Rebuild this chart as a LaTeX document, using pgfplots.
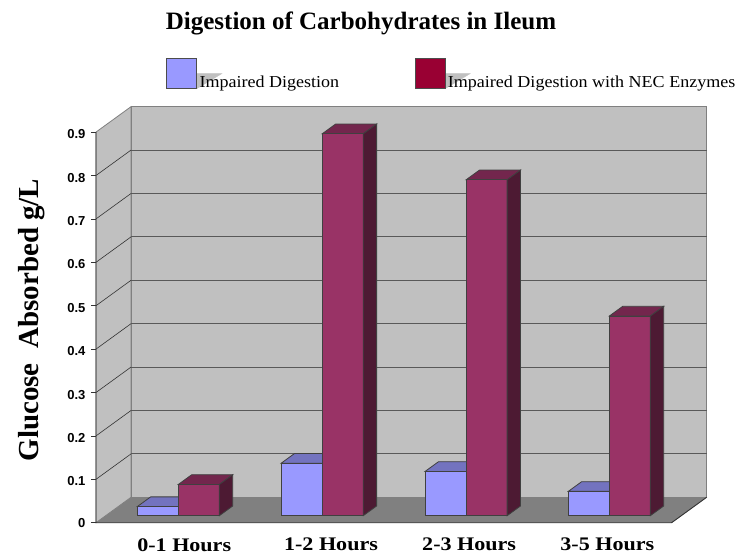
\documentclass[border=0pt]{standalone}
\usepackage{fontspec}
\setmainfont{Liberation Serif}
\newfontfamily\ticksans{Liberation Sans}
\newfontfamily\keyfont[FakeStretch=1.08]{Liberation Serif}
\newfontfamily\catfont[FakeStretch=1.15]{Liberation Serif}
\usepackage{pgfplots}
\pgfplotsset{compat=1.18}

\definecolor{wall}{HTML}{C0C0C0}
\definecolor{floorgrey}{HTML}{808080}
\definecolor{bluefront}{HTML}{9999FF}
\definecolor{bluetop}{HTML}{7373BF}
\definecolor{redfront}{HTML}{993366}
\definecolor{redtop}{HTML}{73264D}
\definecolor{redside}{HTML}{4D1A33}
\definecolor{redkey}{HTML}{990033}

% bar depth runs from 0.276 to 0.658 of the floor
\newcommand{\blockfront}[4]{% x0,x1,value,colour
  \addplot3[fill=#4,draw=black!75,line width=0.8pt,mark=none,forget plot]
    coordinates {(#1,0.276,0) (#2,0.276,0) (#2,0.276,#3) (#1,0.276,#3)} --cycle;}
\newcommand{\blocktop}[4]{%
  \addplot3[fill=#4,draw=black!75,line width=0.8pt,mark=none,forget plot]
    coordinates {(#1,0.276,#3) (#2,0.276,#3) (#2,0.658,#3) (#1,0.658,#3)} --cycle;}
\newcommand{\blockside}[3]{% x1,value,colour
  \addplot3[fill=#3,draw=black!75,line width=0.8pt,mark=none,forget plot]
    coordinates {(#1,0.276,0) (#1,0.658,0) (#1,0.658,#2) (#1,0.276,#2)} --cycle;}
\newcommand{\pair}[3]{% left edge, blue value, red value
  \pgfmathsetmacro{\xa}{#1}\pgfmathsetmacro{\xb}{#1+0.285}\pgfmathsetmacro{\xc}{#1+0.57}
  \edef\doit{\noexpand\blocktop{\xa}{\xb}{#2}{bluetop}
    \noexpand\blockfront{\xa}{\xb}{#2}{bluefront}
    \noexpand\blocktop{\xb}{\xc}{#3}{redtop}
    \noexpand\blockfront{\xb}{\xc}{#3}{redfront}
    \noexpand\blockside{\xc}{#3}{redside}}\doit}
\newcommand{\gridline}[1]{%
  \addplot3[draw=black!65,line width=1pt,mark=none,forget plot]
    coordinates {(0,1,#1) (4,1,#1)};
  \addplot3[draw=black!80,line width=0.6pt,mark=none,forget plot]
    coordinates {(0,0,#1) (0,1,#1)};}
\newcommand{\zmark}[1]{%
  \addplot3[draw=black!80,line width=0.7pt,mark=none,forget plot]
    coordinates {(-0.035,0,#1) (0,0,#1)};}

\begin{document}
\begin{tikzpicture}
\path[use as bounding box] (-96pt,-34.3pt) rectangle (640pt,522.7pt);
\begin{axis}[
    at={(0pt,0pt)}, anchor=origin,
    x={(143.9pt,0pt)}, y={(35pt,25.4pt)}, z={(0pt,434pt)},
    xmin=0, xmax=4, ymin=0, ymax=1, zmin=0, zmax=0.9,
    clip=false,
    axis line style={draw=none},
    xtick={0.6,1.62,2.58,3.54},
    xticklabels={0-1 Hours,1-2 Hours,2-3 Hours,3-5 Hours},
    ytick=\empty,
    ztick={0,0.1,0.2,0.3,0.4,0.5,0.6,0.7,0.8,0.9},
    zticklabels={0,0.1,0.2,0.3,0.4,0.5,0.6,0.7,0.8,0.9},
    xticklabel pos=lower, zticklabel pos=left,
    xtick pos=lower, ztick pos=left,
    x tick style={draw=none},
    z tick style={draw=none},
    major tick length=0pt,
    x tick label style={font=\catfont\bfseries\fontsize{19.2}{19.2}\selectfont,xshift=7pt,yshift=-12pt},
    z tick label style={font=\ticksans\bfseries\fontsize{13}{13}\selectfont,xshift=-7pt,yshift=2pt},
    /pgf/number format/assume math mode=true,
    title={Digestion of Carbohydrates in Ileum},
    title style={font=\bfseries\fontsize{25}{25}\selectfont,at={(axis description cs:0.434,1.186)},anchor=center},
    zlabel={Glucose\ \ Absorbed g/L},
    zlabel style={font=\bfseries\fontsize{29}{29}\selectfont,at={(axis description cs:-0.105,0.487)},anchor=center,rotate=0},
    legend columns=2,
    legend image code/.code={
      \fill[wall,overlay] (30pt,9pt) -- (55pt,9pt) -- (30pt,-6pt) -- cycle;
      \path (32.5pt,0pt);
      \draw[#1,line width=0.8pt] (0pt,-6pt) rectangle (30pt,24pt);},
    legend style={draw=none,fill=none,at={(axis description cs:0.115,1.117)},anchor=north west,
      font=\keyfont\fontsize{16.7}{16.7}\selectfont,inner sep=0pt,
      nodes={inner sep=0pt},
      /tikz/column 2/.style={column sep=75.5pt}},
]
% walls and floor
\addplot3[fill=floorgrey,draw=floorgrey,mark=none,forget plot]
  coordinates {(0,0,0) (4,0,0) (4,1,0) (0,1,0)} --cycle;
\addplot3[fill=wall,draw=floorgrey,line width=0.8pt,mark=none,forget plot]
  coordinates {(0,0,0) (0,1,0) (0,1,0.9) (0,0,0.9)} --cycle;
\addplot3[fill=wall,draw=floorgrey,line width=0.8pt,mark=none,forget plot]
  coordinates {(0,1,0) (4,1,0) (4,1,0.9) (0,1,0.9)} --cycle;
\gridline{0.1}\gridline{0.2}\gridline{0.3}\gridline{0.4}
\gridline{0.5}\gridline{0.6}\gridline{0.7}\gridline{0.8}
\zmark{0}\zmark{0.1}\zmark{0.2}\zmark{0.3}\zmark{0.4}
\zmark{0.5}\zmark{0.6}\zmark{0.7}\zmark{0.8}\zmark{0.9}
% front edges
\addplot3[draw=black!80,line width=0.9pt,mark=none,forget plot]
  coordinates {(0,0,0.9) (0,0,0) (4,0,0) (4,1,0)};
% bars
\pair{0.22}{0.021}{0.072}
\pair{1.22}{0.121}{0.880}
\pair{2.22}{0.102}{0.774}
\pair{3.215}{0.056}{0.460}
\addlegendimage{fill=bluefront,draw=black!70}
\addlegendentry{Impaired Digestion}
\addlegendimage{fill=redkey,draw=black!70}
\addlegendentry{Impaired Digestion with NEC Enzymes}
\end{axis}
\end{tikzpicture}
\end{document}
